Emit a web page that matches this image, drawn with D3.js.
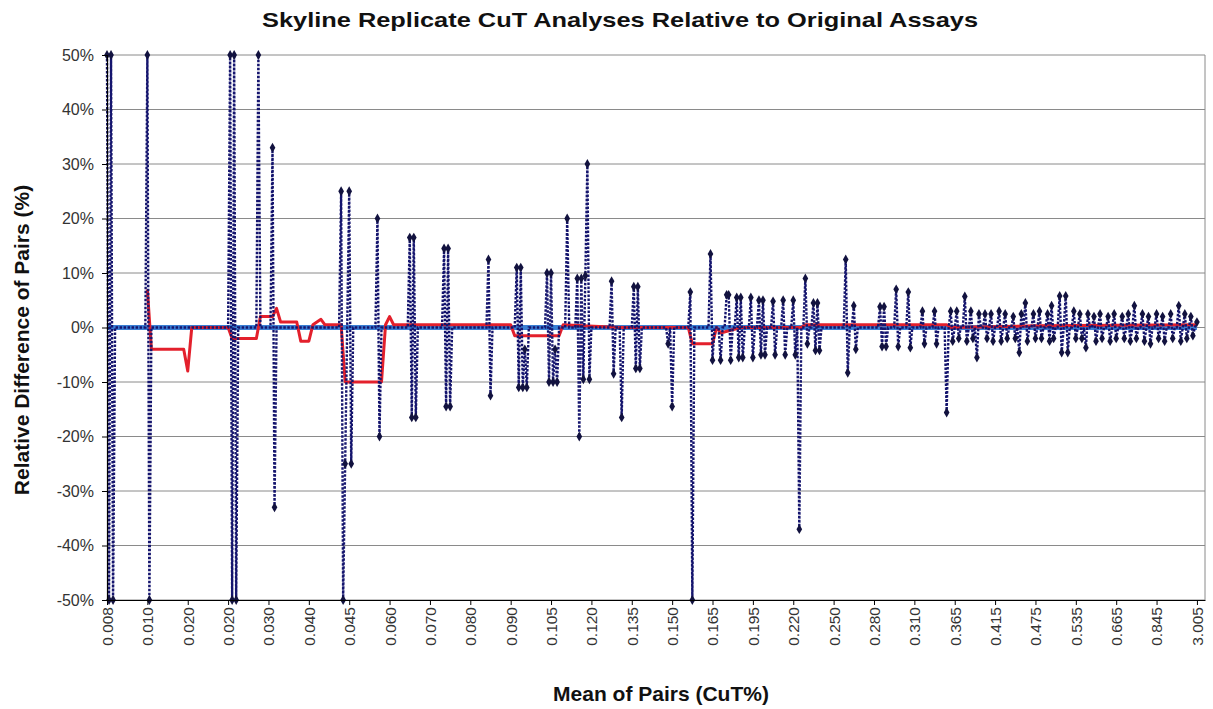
<!DOCTYPE html>
<html><head><meta charset="utf-8">
<script src="https://cdn.jsdelivr.net/npm/d3@7"></script>
<style>
html,body{margin:0;padding:0;background:#fff;}
svg{display:block;font-family:"Liberation Sans",Arial,sans-serif;}
</style></head>
<body>
<svg id="chart" width="1213" height="709"></svg>
<script>
// ---- data ----
const tickLabels = ["0.008","0.010","0.020","0.020","0.030","0.040","0.045","0.060","0.070","0.080","0.090","0.105","0.120","0.135","0.150","0.165","0.195","0.220","0.250","0.280","0.310","0.365","0.415","0.475","0.535","0.665","0.845","3.005"];
const yTicks = [-50,-40,-30,-20,-10,0,10,20,30,40,50];
const nPoints = 541;        // samples, sorted by pair mean
const tickEvery = 20;       // category label interval
const nSlots = 544;
// relative differences (%) that are not zero: run start index and the run's values
const runStart = [0,20,61,75,82,116,134,150,167,189,203,218,228,233,250,255,261,278,280,289,299,304,307,312,319,323,330,335,340,343,346,350,366,370,383,391,397,404,410,416,418];
const runVals = [
 [50,-50,50,-50],
 [50,-50],
 [50,-50,50,-50],
 [50],
 [33,-33],
 [25,-50,-25,0,25,-25],
 [20,-20],
 [16.5,-16.5,16.5,-16.5],
 [14.5,-14.5,14.5,-14.5],
 [12.5,-12.5],
 [11,-11,11,-11,-4,-11],
 [10,-10,10,-10,-4,-10],
 [20],
 [9,-20,9,-9.5,9.5,30,-9.5],
 [8.5,-8.5],
 [-16.5],
 [7.5,-7.5,7.5,-7.5],
 [-3],
 [-14.5],
 [6.5,-50],
 [13.5,-6],
 [-6],
 [6,6,-6],
 [5.5,-5.5,5.5,-5.5],
 [5.5,-5.5],
 [5,-5,5,-5],
 [4.8,-5],
 [5,-5],
 [5,-5],
 [-37],
 [9,-3],
 [4.5,-4.2,4.5,-4.2],
 [12.5,-8.3],
 [4,-4],
 [3.8,-3.5,3.8,-3.5],
 [7,-3.5],
 [6.5,-3.7],
 [3,-3],
 [3,-3],
 [-15.6],
 [3,-2.5,0,3,-2,0,0,5.7,-2.5,0,
  3,-2,0,-5.5,2.5,0,0,2.5,-2,0,
  2.5,-2.5,0,0,3,-2.5,0,2.5,-2,0,
  0,2,-2,0,-4.6,2.5,0,4.5,-2.5,0,
  0,2.5,-2,0,3,-2,0,0,2.5,-2.5,
  4,-2,0,0,5.8,-4.6,0,5.8,-4.6,0,
  0,3,-2,0,2.5,-2,0,-3.7,2.5,0,
  0,2,-2.5,0,2.5,-2,0,0,2,-2.5,
  0,2.5,-2,0,0,2,-2,0,2.5,-2.5,
  0,4,-2,0,0,2.5,-2.5,0,2,-3,
  0,0,2.5,-2,0,2,-2.5,0,0,2.5,
  -2,0,0,4,-2.5,0,2.5,-2,0,2,
  -1.5,0,1]
];
// running average of the relative differences (%): index, value
const avgIdx = [20,22,38,40,42,60,62,74,76,82,84,86,94,96,100,102,106,108,116,118,136,138,140,142,200,202,224,226,254,288,290,300,302,304,314,344,346,416,418,460,540];
const avgVal = [7,-4,-4,-8,0,0,-2,-2,2,2,3.5,1,1,-2.5,-2.5,0.5,1.5,0.5,0.5,-10,-10,0.5,2,0.5,0.5,-1.5,-1.5,0.5,0,0,-3,-3,0,-1,0,0,0.5,0.5,0,0.3,0.5];

// series table built from the runs (unlisted samples read as 0%)
const relDiff = new Array(nPoints).fill(0);
runStart.forEach((s,k)=>runVals[k].forEach((v,j)=>{ if (s+j<nPoints) relDiff[s+j]=v; }));

// ---- layout ----
const L=107,R=1205,T=55,B=600;
const svg = d3.select("#chart");
const x = d3.scaleLinear().domain([0,nSlots]).range([L,R]);
const y = d3.scaleLinear().domain([-50,50]).range([B,T]);

// gridlines
svg.append("g").selectAll("line").data(yTicks).join("line")
  .attr("x1",L).attr("x2",R).attr("y1",d=>y(d)).attr("y2",d=>y(d))
  .attr("stroke","#8a8a8a").attr("stroke-width",1);
svg.append("line").attr("x1",R).attr("x2",R).attr("y1",T).attr("y2",B).attr("stroke","#8a8a8a");

// zero reference line
svg.append("line").attr("x1",x(0)).attr("x2",x(nPoints-1)).attr("y1",y(0)).attr("y2",y(0))
  .attr("stroke","#3a7fd4").attr("stroke-width",5);

// running average (red)
const avgData = avgIdx.map((d,i)=>[d,avgVal[i]]);
svg.append("path").datum(avgData)
  .attr("d", d3.line().x(d=>x(d[0])).y(d=>y(d[1])))
  .attr("fill","none").attr("stroke","#e3202c").attr("stroke-width",3).attr("stroke-linejoin","round");

// relative differences (dashed navy with diamonds)
svg.append("path").datum(relDiff)
  .attr("d", d3.line().x((d,i)=>x(i)).y(d=>y(d)))
  .attr("fill","none").attr("stroke","#15156e").attr("stroke-width",2.4).attr("stroke-dasharray","2.5,1.5");
svg.append("g").selectAll("path").data(relDiff.map((v,i)=>[i,v]).filter(d=>d[1]!==0)).join("path")
  .attr("transform",d=>`translate(${x(d[0])},${y(d[1])})`)
  .attr("d", d3.symbol(d3.symbolDiamond).size(28))
  .attr("fill","#12123f");

// axes
const yAxis = svg.append("g").attr("transform",`translate(${L},0)`)
  .call(d3.axisLeft(y).tickValues(yTicks).tickFormat(d=>d+"%").tickSize(5).tickPadding(8));
yAxis.select(".domain").attr("stroke","#000").attr("stroke-width",1.2);
yAxis.selectAll("text").attr("font-size",16).attr("fill","#333");

const tickIdx = tickLabels.map((d,i)=>i*tickEvery);
const xAxis = svg.append("g").attr("transform",`translate(0,${B})`)
  .call(d3.axisBottom(x).tickValues(tickIdx).tickFormat((d,i)=>tickLabels[i]).tickSize(5).tickSizeOuter(0));
xAxis.select(".domain").attr("stroke","#000").attr("stroke-width",1.2);
xAxis.selectAll("text").attr("font-size",15.5).attr("fill","#333")
  .attr("transform","rotate(-90)").attr("text-anchor","end")
  .attr("x",-7).attr("y",0).attr("dy","0.35em");

// titles
svg.append("text").attr("x",620).attr("y",27).attr("text-anchor","middle")
  .attr("font-size",21).attr("font-weight","bold").attr("fill","#111")
  .attr("textLength",716).attr("lengthAdjust","spacingAndGlyphs")
  .text("Skyline Replicate CuT Analyses Relative to Original Assays");
svg.append("text").attr("transform","translate(29,340) rotate(-90)").attr("text-anchor","middle")
  .attr("font-size",21).attr("font-weight","bold").attr("fill","#111")
  .text("Relative Difference of Pairs (%)");
svg.append("text").attr("x",661).attr("y",701).attr("text-anchor","middle")
  .attr("font-size",21).attr("font-weight","bold").attr("fill","#111")
  .text("Mean of Pairs (CuT%)");
</script>
</body></html>
